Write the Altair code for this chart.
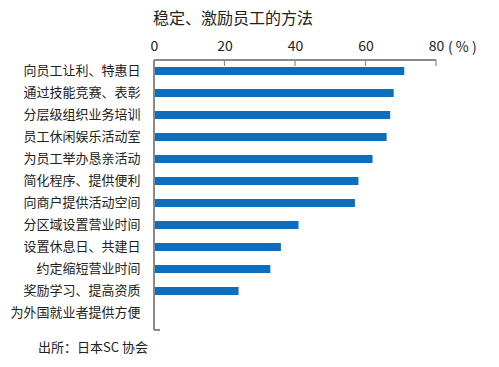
import altair as alt
import pandas as pd

categories = [
    "向员工让利、特惠日",
    "通过技能竞赛、表彰",
    "分层级组织业务培训",
    "员工休闲娱乐活动室",
    "为员工举办恳亲活动",
    "简化程序、提供便利",
    "向商户提供活动空间",
    "分区域设置营业时间",
    "设置休息日、共建日",
    "约定缩短营业时间",
    "奖励学习、提高资质",
    "为外国就业者提供方便",
]
values = [71, 68, 67, 66, 62, 58, 57, 41, 36, 33, 24, 0]
ticks = [0, 20, 40, 60, 80]

FONT = "Noto Sans CJK SC"
AXIS_GREY = "#8a8a8a"
BAR_BLUE = "#0d6ebe"

df = pd.DataFrame({"cat": categories, "val": values})
tdf = pd.DataFrame({"t": ticks})

xscale = alt.Scale(domain=[0, 80], nice=False, zero=True)

bars = alt.Chart(df).mark_bar(color=BAR_BLUE, size=8).encode(
    x=alt.X("val:Q", scale=xscale,
            axis=alt.Axis(orient="top", values=ticks, title=None, domain=False,
                          ticks=False, grid=False, labelFont=FONT, labelFontSize=14,
                          labelColor="#222222", labelPadding=7, labelFlush=False)),
    y=alt.Y("cat:N", sort=categories,
            scale=alt.Scale(paddingInner=0.64, paddingOuter=0.32),
            axis=alt.Axis(title=None, domain=False, ticks=False, labelFont=FONT,
                          labelFontSize=13, labelColor="#222222", labelPadding=14,
                          labelLimit=200)),
)

top_line = alt.Chart(tdf).mark_rule(color=AXIS_GREY, strokeWidth=1.5).encode(
    x=alt.datum(0, scale=xscale), x2=alt.datum(80), y=alt.value(0)
)
tick_rules = alt.Chart(tdf).mark_rule(color=AXIS_GREY, strokeWidth=1.2).encode(
    x=alt.X("t:Q", scale=xscale), y=alt.value(0), y2=alt.value(6)
)
left_line = alt.Chart(tdf).mark_rule(color=AXIS_GREY, strokeWidth=1.5).encode(
    x=alt.value(0), y=alt.value(0), y2=alt.value(270)
)
foot = alt.Chart(tdf).mark_rule(color=AXIS_GREY, strokeWidth=1.5).encode(
    x=alt.value(0), x2=alt.value(6), y=alt.value(270)
)

unit = alt.Chart(tdf).mark_text(font=FONT, fontSize=14, color="#222222", align="left",
                                baseline="alphabetic").encode(
    x=alt.value(294), y=alt.value(-8), text=alt.value("( % )")
).transform_filter("datum.t == 80")

title = alt.Chart(tdf).mark_text(font=FONT, fontSize=16, color="#222222", align="center",
                                 baseline="middle").encode(
    x=alt.value(79), y=alt.value(-41), text=alt.value("稳定、激励员工的方法")
).transform_filter("datum.t == 0")

source = alt.Chart(tdf).mark_text(font=FONT, fontSize=13, color="#222222", align="left",
                                  baseline="middle").encode(
    x=alt.value(-116), y=alt.value(288), text=alt.value("出所：日本SC 协会")
).transform_filter("datum.t == 0")

chart = alt.layer(bars, top_line, tick_rules, left_line, foot, unit, title, source).properties(
    width=282, height=264,
    background="white",
    autosize=alt.AutoSizeParams(type="none"),
    padding={"left": 146, "top": 52, "right": 55, "bottom": 35},
).configure_view(strokeWidth=0, stroke="transparent")

chart.save("out.html", embed_options={"renderer": "svg", "actions": False})
